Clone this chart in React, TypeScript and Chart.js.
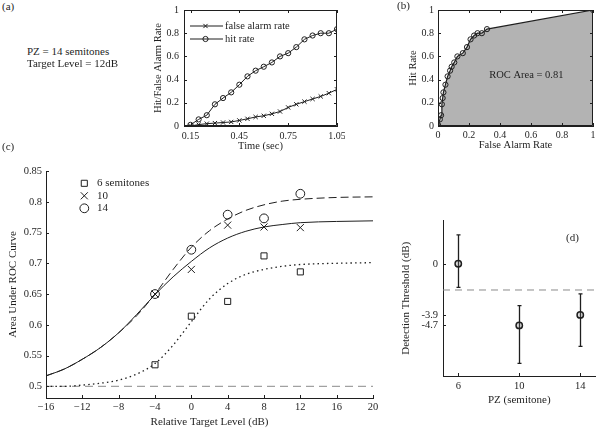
import React, { useEffect, useRef } from "react";
import { Chart, registerables } from "chart.js";

Chart.register(...registerables);

const SERIF = "'Liberation Serif', 'Times New Roman', Times, serif";
const INK = "#1f1f1f";
const GUIDE = "#8a8a8a";
const ROC_FILL = "#b3b3b3";

// ---------- Panel (a): hit / false alarm rate over time ----------
const timeSec = [0.15, 0.2, 0.25, 0.3, 0.35, 0.4, 0.45, 0.5, 0.55, 0.6, 0.65, 0.7, 0.75, 0.8, 0.85, 0.9, 0.95, 1.0, 1.05];
const hitRate = [0.01, 0.057, 0.093, 0.187, 0.241, 0.29, 0.356, 0.428, 0.477, 0.511, 0.548, 0.6, 0.628, 0.68, 0.747, 0.78, 0.8, 0.8, 0.835];
const falseAlarmRate = [0, 0.012, 0.02, 0.025, 0.03, 0.035, 0.048, 0.062, 0.078, 0.088, 0.105, 0.125, 0.16, 0.187, 0.21, 0.233, 0.255, 0.283, 0.316];
const timeTicks = [0.15, 0.45, 0.75, 1.05];
const rateTicks = [0, 0.2, 0.4, 0.6, 0.8, 1];
const panelANote = ["PZ = 14 semitones", "Target Level = 12dB"];

// ---------- Panel (b): ROC curve ----------
const rocStartFA = 0;
const rocStartHit = 0;
const rocEndFA = 1;
const rocEndHit = 1;
const rocAreaText = "ROC Area = 0.81";
const rocTicks = [0, 0.2, 0.4, 0.6, 0.8, 1];

// ---------- Panel (c): area under ROC vs relative target level ----------
const levelGrid = [-16, -14, -12, -10, -8, -6, -4, -2, 0, 2, 4, 6, 8, 10, 12, 16, 20];
const fit6 = [0.5, 0.5, 0.502, 0.505, 0.51, 0.52, 0.537, 0.567, 0.605, 0.642, 0.667, 0.682, 0.69, 0.695, 0.698, 0.7, 0.701];
const fit10 = [0.517, 0.528, 0.544, 0.563, 0.587, 0.617, 0.649, 0.678, 0.703, 0.725, 0.741, 0.752, 0.759, 0.763, 0.766, 0.768, 0.769];
const fit14 = [0.517, 0.528, 0.544, 0.563, 0.587, 0.615, 0.65, 0.69, 0.726, 0.753, 0.772, 0.786, 0.795, 0.801, 0.804, 0.807, 0.808];
const levelPoints = [-4, 0, 4, 8, 12];
const auc6 = [0.535, 0.614, 0.638, 0.712, 0.686];
const auc10 = [0.65, 0.69, 0.762, 0.759, 0.758];
const auc14 = [0.65, 0.722, 0.779, 0.773, 0.813];
const levelTicks = [-16, -12, -8, -4, 0, 4, 8, 12, 16, 20];
const aucTicks = [0.5, 0.55, 0.6, 0.65, 0.7, 0.75, 0.8, 0.85];
const chanceAUC = 0.5;
const levelMin = -16;
const levelMax = 20;

// ---------- Panel (d): detection threshold vs PZ ----------
const pzValues = [6, 10, 14];
const thresholdDB = [0, -4.7, -3.9];
const thresholdUpper = [2.2, -3.2, -2.3];
const thresholdLower = [-1.8, -7.6, -6.3];
const thresholdTicks = [0, -3.9, -4.7];
const pzTicks = [6, 10, 14];
const referenceDB = -2;
const pzMin = 5;
const pzMax = 15;

type Frame = { left: number; top: number; width: number; height: number; plotL: number; plotT: number; plotR: number; plotB: number };

const frameA: Frame = { left: 140, top: 0, width: 205, height: 160, plotL: 184, plotT: 10, plotR: 337, plotB: 126 };
const frameB: Frame = { left: 380, top: 0, width: 221, height: 160, plotL: 438, plotT: 10, plotR: 593, plotB: 126 };
const frameC: Frame = { left: 0, top: 140, width: 395, height: 289, plotL: 46, plotT: 171, plotR: 373, plotB: 398 };
const frameD: Frame = { left: 395, top: 215, width: 206, height: 214, plotL: 443, plotT: 219, plotR: 600, plotB: 376 };

const fmtPlain = (v: number) => String(v);
const fmt2 = (v: number) => v.toFixed(2);
const fmtMinus = (v: number) => (v < 0 ? "\u2212" + Math.abs(v) : String(v));

interface AxisSpec {
  min: number; max: number; ticks: number[]; fmt: (v: number) => string;
  title: string; tickSize: number; titleSize: number; tickPad: number; titlePad: number;
}

function xAxis(f: Frame, a: AxisSpec) {
  return {
    type: "linear", position: "bottom", min: a.min, max: a.max,
    grid: { display: false, drawTicks: false },
    border: { display: true, color: INK, width: 1 },
    ticks: {
      autoSkip: false, maxRotation: 0, minRotation: 0, padding: a.tickPad, color: INK,
      font: { family: SERIF, size: a.tickSize }, callback: (v: any) => a.fmt(Number(v)),
    },
    afterBuildTicks: (s: any) => { s.ticks = a.ticks.map((v) => ({ value: v })); },
    afterFit: (s: any) => { s.height = f.top + f.height - f.plotB; s.paddingLeft = 0; s.paddingRight = 0; },
    title: { display: true, text: a.title, color: INK, font: { family: SERIF, size: a.titleSize }, padding: { top: 0, bottom: a.titlePad } },
  };
}

function yAxis(f: Frame, a: AxisSpec) {
  return {
    type: "linear", position: "left", min: a.min, max: a.max,
    grid: { display: false, drawTicks: false },
    border: { display: true, color: INK, width: 1 },
    ticks: {
      autoSkip: false, padding: a.tickPad, color: INK,
      font: { family: SERIF, size: a.tickSize }, callback: (v: any) => a.fmt(Number(v)),
    },
    afterBuildTicks: (s: any) => { s.ticks = a.ticks.map((v) => ({ value: v })); },
    afterFit: (s: any) => { s.width = f.plotL - f.left; s.paddingTop = 0; s.paddingBottom = 0; },
    title: { display: true, text: a.title, color: INK, font: { family: SERIF, size: a.titleSize }, padding: { top: a.titlePad, bottom: 0 } },
  };
}

function layoutFor(f: Frame) {
  return { padding: { left: 0, top: f.plotT - f.top, right: f.left + f.width - f.plotR, bottom: 0 } };
}

function drawMarker(ctx: CanvasRenderingContext2D, style: string, x: number, y: number, r: number) {
  ctx.beginPath();
  if (style === "rect") {
    const s = r * Math.SQRT1_2;
    ctx.rect(x - s, y - s, 2 * s, 2 * s);
  } else if (style === "crossRot") {
    const s = r * Math.SQRT1_2;
    ctx.moveTo(x - s, y - s); ctx.lineTo(x + s, y + s);
    ctx.moveTo(x - s, y + s); ctx.lineTo(x + s, y - s);
  } else {
    ctx.arc(x, y, r, 0, Math.PI * 2);
  }
  ctx.stroke();
}

function frameDeco(box: boolean, len: number) {
  return {
    id: "frameDeco",
    afterDatasetsDraw(chart: any) {
      const { ctx, chartArea: a } = chart;
      const xs = chart.scales.x;
      const ys = chart.scales.y;
      ctx.save();
      ctx.strokeStyle = INK;
      ctx.lineWidth = 1;
      ctx.beginPath();
      for (const t of xs.ticks) {
        const px = Math.round(xs.getPixelForValue(t.value)) + 0.5;
        ctx.moveTo(px, a.bottom); ctx.lineTo(px, a.bottom - len);
        if (box) { ctx.moveTo(px, a.top); ctx.lineTo(px, a.top + len); }
      }
      for (const t of ys.ticks) {
        const py = Math.round(ys.getPixelForValue(t.value)) + 0.5;
        ctx.moveTo(a.left, py); ctx.lineTo(a.left + len, py);
        if (box) { ctx.moveTo(a.right, py); ctx.lineTo(a.right - len, py); }
      }
      if (box) {
        const l = Math.round(a.left) + 0.5, r = Math.round(a.right) - 0.5;
        const t = Math.round(a.top) + 0.5, b = Math.round(a.bottom) - 0.5;
        ctx.rect(l, t, r - l, b - t);
      }
      ctx.stroke();
      ctx.restore();
    },
  };
}

function markerLegend(cfg: { items: number[]; markX: number; textX: number; y0: number; dy: number; size: number; lineFrom?: number; lineTo?: number }) {
  return {
    id: "markerLegend",
    afterDraw(chart: any) {
      const ctx = chart.ctx as CanvasRenderingContext2D;
      ctx.save();
      ctx.font = `${cfg.size}px ${SERIF}`;
      ctx.textBaseline = "middle";
      ctx.textAlign = "left";
      ctx.fillStyle = INK;
      ctx.strokeStyle = INK;
      ctx.lineWidth = 1;
      cfg.items.forEach((di, k) => {
        const ds = chart.data.datasets[di];
        const y = cfg.y0 + k * cfg.dy;
        if (cfg.lineFrom != null && cfg.lineTo != null) {
          ctx.beginPath(); ctx.moveTo(cfg.lineFrom, y); ctx.lineTo(cfg.lineTo, y); ctx.stroke();
        }
        drawMarker(ctx, ds.pointStyle, cfg.markX, y, ds.pointRadius);
        ctx.fillText(ds.label, cfg.textX, y);
      });
      ctx.restore();
    },
  };
}

function dataText(text: string, dx: number, dy: number, size: number) {
  return {
    id: "dataText",
    afterDatasetsDraw(chart: any) {
      const ctx = chart.ctx as CanvasRenderingContext2D;
      ctx.save();
      ctx.font = `${size}px ${SERIF}`;
      ctx.fillStyle = INK;
      ctx.textAlign = "center";
      ctx.textBaseline = "middle";
      ctx.fillText(text, chart.scales.x.getPixelForValue(dx), chart.scales.y.getPixelForValue(dy));
      ctx.restore();
    },
  };
}

function errorBars(xs: number[], lo: number[], hi: number[], cap: number) {
  return {
    id: "errorBars",
    beforeDatasetsDraw(chart: any) {
      const ctx = chart.ctx as CanvasRenderingContext2D;
      const sx = chart.scales.x, sy = chart.scales.y;
      ctx.save();
      ctx.strokeStyle = INK;
      ctx.lineWidth = 1.3;
      ctx.beginPath();
      xs.forEach((v, i) => {
        const x = Math.round(sx.getPixelForValue(v)) + 0.5;
        const yt = sy.getPixelForValue(hi[i]);
        const yb = sy.getPixelForValue(lo[i]);
        ctx.moveTo(x, yt); ctx.lineTo(x, yb);
        ctx.moveTo(x - cap, yt); ctx.lineTo(x + cap, yt);
        ctx.moveTo(x - cap, yb); ctx.lineTo(x + cap, yb);
      });
      ctx.stroke();
      ctx.restore();
    },
  };
}

const basePlugins = { legend: { display: false }, tooltip: { enabled: false } };

function configA() {
  return {
    type: "line",
    data: {
      datasets: [
        {
          label: "false alarm rate",
          data: timeSec.map((t, i) => ({ x: t, y: falseAlarmRate[i] })),
          borderColor: INK, borderWidth: 1, tension: 0,
          pointStyle: "crossRot", pointRadius: 3, pointBorderColor: INK, pointBorderWidth: 1, pointBackgroundColor: "rgba(0,0,0,0)",
        },
        {
          label: "hit rate",
          data: timeSec.map((t, i) => ({ x: t, y: hitRate[i] })),
          borderColor: INK, borderWidth: 1, tension: 0,
          pointStyle: "circle", pointRadius: 2.6, pointBorderColor: INK, pointBorderWidth: 1, pointBackgroundColor: "rgba(0,0,0,0)",
        },
      ],
    },
    options: {
      animation: false, responsive: false, devicePixelRatio: 1,
      layout: layoutFor(frameA),
      plugins: basePlugins,
      scales: {
        x: xAxis(frameA, { min: 0.11, max: 1.05, ticks: timeTicks, fmt: fmt2, title: "Time (sec)", tickSize: 10, titleSize: 10.5, tickPad: 4, titlePad: 7 }),
        y: yAxis(frameA, { min: 0, max: 1, ticks: rateTicks, fmt: fmtPlain, title: "Hit/False Alarm Rate", tickSize: 10, titleSize: 10.5, tickPad: 5, titlePad: 12 }),
      },
    },
    plugins: [frameDeco(true, 3), markerLegend({ items: [0, 1], markX: 65.5, textX: 85, y0: 26, dy: 13, size: 10.5, lineFrom: 50, lineTo: 83 })],
  };
}

function configB() {
  const pts = [{ x: rocStartFA, y: rocStartHit }]
    .concat(falseAlarmRate.map((f, i) => ({ x: f, y: hitRate[i] })))
    .concat([{ x: rocEndFA, y: rocEndHit }]);
  return {
    type: "line",
    data: {
      datasets: [
        {
          label: "ROC",
          data: pts,
          borderColor: INK, borderWidth: 1.2, tension: 0,
          fill: "origin", backgroundColor: ROC_FILL,
          pointStyle: "circle", pointRadius: 2.6, pointBorderColor: INK, pointBorderWidth: 1, pointBackgroundColor: "rgba(0,0,0,0)",
        },
      ],
    },
    options: {
      animation: false, responsive: false, devicePixelRatio: 1,
      layout: layoutFor(frameB),
      plugins: basePlugins,
      scales: {
        x: xAxis(frameB, { min: 0, max: 1, ticks: rocTicks, fmt: fmtPlain, title: "False Alarm Rate", tickSize: 10, titleSize: 10.5, tickPad: 3, titlePad: 8 }),
        y: yAxis(frameB, { min: 0, max: 1, ticks: rocTicks, fmt: fmtPlain, title: "Hit Rate", tickSize: 10, titleSize: 10.5, tickPad: 4, titlePad: 27 }),
      },
    },
    plugins: [frameDeco(true, 3), dataText(rocAreaText, 0.57, 0.44, 10.5)],
  };
}

function curve(label: string, ys: number[], dash: number[], width: number) {
  return {
    label, data: levelGrid.map((x, i) => ({ x, y: ys[i] })),
    borderColor: INK, borderWidth: width, borderDash: dash, cubicInterpolationMode: "monotone",
    pointRadius: 0, fill: false,
  };
}

function markers(label: string, ys: number[], style: string, r: number) {
  return {
    label, data: levelPoints.map((x, i) => ({ x, y: ys[i] })), showLine: false,
    pointStyle: style, pointRadius: r, pointBorderColor: INK, pointBorderWidth: 1, pointBackgroundColor: "rgba(0,0,0,0)",
  };
}

function configC() {
  return {
    type: "line",
    data: {
      datasets: [
        curve("fit 6", fit6, [1.5, 3.2], 1.3),
        curve("fit 10", fit10, [], 1),
        curve("fit 14", fit14, [8, 4], 1),
        {
          label: "chance", data: [{ x: levelMin, y: chanceAUC }, { x: levelMax, y: chanceAUC }],
          borderColor: GUIDE, borderWidth: 1, borderDash: [8, 5], pointRadius: 0,
        },
        markers("6 semitones", auc6, "rect", 4.3),
        markers("10", auc10, "crossRot", 5),
        markers("14", auc14, "circle", 4.4),
      ],
    },
    options: {
      animation: false, responsive: false, devicePixelRatio: 1,
      layout: layoutFor(frameC),
      plugins: basePlugins,
      scales: {
        x: xAxis(frameC, { min: levelMin, max: levelMax, ticks: levelTicks, fmt: fmtMinus, title: "Relative Target Level (dB)", tickSize: 10.5, titleSize: 11, tickPad: 3, titlePad: 0 }),
        y: yAxis(frameC, { min: 0.481, max: 0.85, ticks: aucTicks, fmt: fmtPlain, title: "Area Under ROC Curve", tickSize: 10.5, titleSize: 11, tickPad: 4, titlePad: 7 }),
      },
    },
    plugins: [frameDeco(false, 3), markerLegend({ items: [4, 5, 6], markX: 84.3, textX: 97, y0: 43.3, dy: 12.5, size: 11 })],
  };
}

function configD() {
  return {
    type: "line",
    data: {
      datasets: [
        {
          label: "reference", data: [{ x: pzMin, y: referenceDB }, { x: pzMax, y: referenceDB }],
          borderColor: GUIDE, borderWidth: 1, borderDash: [7, 5], pointRadius: 0,
        },
        {
          label: "threshold", data: pzValues.map((x, i) => ({ x, y: thresholdDB[i] })), showLine: false,
          pointStyle: "circle", pointRadius: 3.2, pointBorderColor: INK, pointBorderWidth: 1.5, pointBackgroundColor: "rgba(120,120,120,0.25)",
        },
      ],
    },
    options: {
      animation: false, responsive: false, devicePixelRatio: 1,
      layout: layoutFor(frameD),
      plugins: basePlugins,
      scales: {
        x: xAxis(frameD, { min: pzMin, max: pzMax, ticks: pzTicks, fmt: fmtPlain, title: "PZ (semitone)", tickSize: 10.5, titleSize: 11, tickPad: 4, titlePad: 22 }),
        y: yAxis(frameD, { min: -8.56, max: 3.3, ticks: thresholdTicks, fmt: fmtPlain, title: "Detection Threshold (dB)", tickSize: 10.5, titleSize: 11, tickPad: 5, titlePad: 5 }),
      },
    },
    plugins: [frameDeco(false, 3), errorBars(pzValues, thresholdLower, thresholdUpper, 2)],
  };
}

function ChartBox({ frame, build }: { frame: Frame; build: () => any }) {
  const ref = useRef<HTMLCanvasElement | null>(null);
  useEffect(() => {
    if (!ref.current) return;
    const chart = new Chart(ref.current, build());
    return () => chart.destroy();
  }, []);
  return (
    <canvas
      ref={ref}
      width={frame.width}
      height={frame.height}
      style={{ position: "absolute", left: frame.left, top: frame.top, width: frame.width, height: frame.height }}
    />
  );
}

function Txt({ x, cy, text, size = 11 }: { x: number; cy: number; text: string; size?: number }) {
  return (
    <div
      style={{
        position: "absolute", left: x, top: cy - size * 0.6, fontSize: size, lineHeight: `${size * 1.2}px`,
        fontFamily: SERIF, color: INK, whiteSpace: "nowrap",
      }}
    >
      {text}
    </div>
  );
}

export default function App() {
  return (
    <div style={{ position: "absolute", left: 0, top: 0, width: 601, height: 429, background: "#fff", overflow: "hidden" }}>
      <ChartBox frame={frameA} build={configA} />
      <ChartBox frame={frameB} build={configB} />
      <ChartBox frame={frameC} build={configC} />
      <ChartBox frame={frameD} build={configD} />
      <Txt x={2} cy={7} text="(a)" />
      <Txt x={397} cy={6} text="(b)" />
      <Txt x={2} cy={147} text="(c)" />
      <Txt x={566} cy={238} text="(d)" />
      <Txt x={27} cy={52} text={panelANote[0]} />
      <Txt x={27} cy={63.5} text={panelANote[1]} />
    </div>
  );
}
